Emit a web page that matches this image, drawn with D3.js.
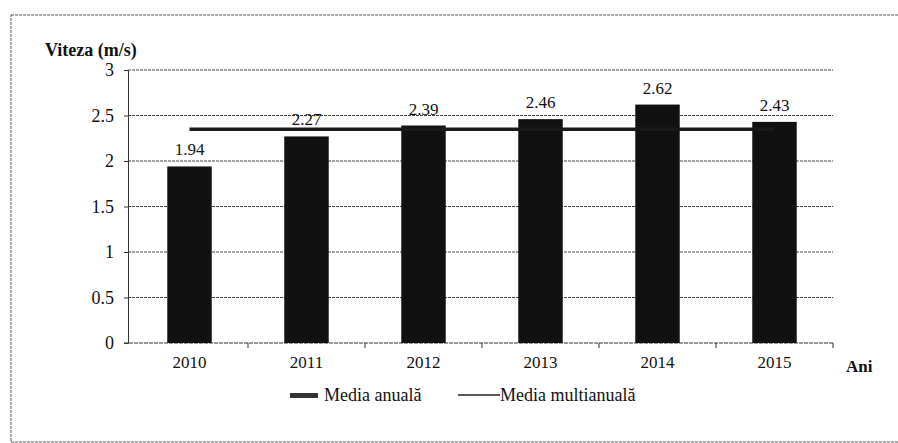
<!DOCTYPE html>
<html>
<head>
<meta charset="utf-8">
<script src="https://cdn.jsdelivr.net/npm/d3@7"></script>
<style>
  body { margin: 0; background: #fff; }
</style>
</head>
<body>
<svg id="chart" width="898" height="443"></svg>
<script>
// data
const years = ["2010", "2011", "2012", "2013", "2014", "2015"];
const mediaAnuala = [1.94, 2.27, 2.39, 2.46, 2.62, 2.43];
const mediaMultianuala = [2.35, 2.35, 2.35, 2.35, 2.35, 2.35];
const yTicks = [0, 0.5, 1, 1.5, 2, 2.5, 3];
const legendNames = ["Media anuală", "Media multianuală"];

const serif = "'Liberation Serif', 'DejaVu Serif', 'Times New Roman', serif";

var svg = d3.select("#chart");

// outer frame (runs off the right/bottom edge like the scan)
svg.append("rect")
  .attr("x", 11).attr("y", 15)
  .attr("width", 900).attr("height", 427)
  .attr("fill", "none")
  .attr("stroke", "#555")
  .attr("stroke-width", 1)
  .attr("stroke-dasharray", "3,1");

var x = d3.scaleBand().domain(years).range([131, 833]).paddingInner(0.62).paddingOuter(0.31);
var y = d3.scaleLinear().domain([0, 3]).range([343, 70]);

// gridlines
svg.append("g")
  .selectAll("line")
  .data(yTicks.filter(d => d > 0))
  .join("line")
  .attr("x1", 128).attr("x2", 833)
  .attr("y1", d => y(d)).attr("y2", d => y(d))
  .attr("stroke", "#444")
  .attr("stroke-width", 1)
  .attr("stroke-dasharray", "3,1");

// y axis
var yAxis = svg.append("g")
  .attr("transform", "translate(128,0)")
  .call(d3.axisLeft(y).tickValues(yTicks).tickFormat(d3.format("")).tickSize(4).tickPadding(10));
yAxis.attr("font-family", serif);
yAxis.select(".domain").attr("stroke", "#333");
yAxis.selectAll(".tick line").attr("stroke", "#333");
yAxis.selectAll("text").style("font-size", "18px").style("font-family", serif).attr("fill", "#111");

// x axis
var xAxis = svg.append("g")
  .attr("transform", "translate(0,343)")
  .call(d3.axisBottom(x).tickSize(0).tickPadding(13));
xAxis.attr("font-family", serif);
xAxis.select(".domain").remove();
xAxis.selectAll("text").style("font-size", "17px").style("font-family", serif).attr("fill", "#111");

svg.append("line")
  .attr("x1", 124).attr("x2", 834)
  .attr("y1", 343).attr("y2", 343)
  .attr("stroke", "#333").attr("stroke-width", 1).attr("stroke-dasharray", "4,1");

// category separators on x axis
svg.append("g")
  .selectAll("line")
  .data(years)
  .join("line")
  .attr("x1", d => x(d) + x.bandwidth() / 2 + x.step() / 2)
  .attr("x2", d => x(d) + x.bandwidth() / 2 + x.step() / 2)
  .attr("y1", 343).attr("y2", 348)
  .attr("stroke", "#333");

// bars
svg.append("g")
  .selectAll("rect")
  .data(mediaAnuala)
  .join("rect")
  .attr("x", (d, i) => x(years[i]))
  .attr("y", d => y(d))
  .attr("width", x.bandwidth())
  .attr("height", d => y(0) - y(d))
  .attr("fill", "#111");

// bar value labels
svg.append("g")
  .selectAll("text")
  .data(mediaAnuala)
  .join("text")
  .attr("x", (d, i) => x(years[i]) + x.bandwidth() / 2)
  .attr("y", d => y(d) - 11)
  .attr("text-anchor", "middle")
  .style("font-family", serif)
  .style("font-size", "17px")
  .attr("fill", "#111")
  .text(d => d3.format(".2f")(d));

// multi-annual mean line
var line = d3.line()
  .x((d, i) => x(years[i]) + x.bandwidth() / 2)
  .y(d => y(d));
svg.append("path")
  .datum(mediaMultianuala)
  .attr("d", line)
  .attr("fill", "none")
  .attr("stroke", "#1a1a1a")
  .attr("stroke-width", 3.5);

// axis titles
svg.append("text")
  .attr("x", 45).attr("y", 56)
  .style("font-family", serif)
  .style("font-size", "18px").style("font-weight", "bold")
  .attr("fill", "#111")
  .text("Viteza (m/s)");

svg.append("text")
  .attr("x", 846).attr("y", 372)
  .style("font-family", serif)
  .style("font-size", "17px").style("font-weight", "bold")
  .attr("fill", "#111")
  .text("Ani");

// legend
var lg = svg.append("g").style("font-family", serif);
lg.append("rect")
  .attr("x", 290).attr("y", 393)
  .attr("width", 28).attr("height", 5)
  .attr("fill", "#333");
lg.append("text")
  .attr("x", 324).attr("y", 401)
  .style("font-size", "18px")
  .attr("fill", "#111")
  .text(legendNames[0]);
lg.append("line")
  .attr("x1", 458).attr("x2", 500)
  .attr("y1", 395).attr("y2", 395)
  .attr("stroke", "#222").attr("stroke-width", 1.5);
lg.append("text")
  .attr("x", 500).attr("y", 401)
  .style("font-size", "18px")
  .attr("fill", "#111")
  .text(legendNames[1]);
</script>
</body>
</html>
